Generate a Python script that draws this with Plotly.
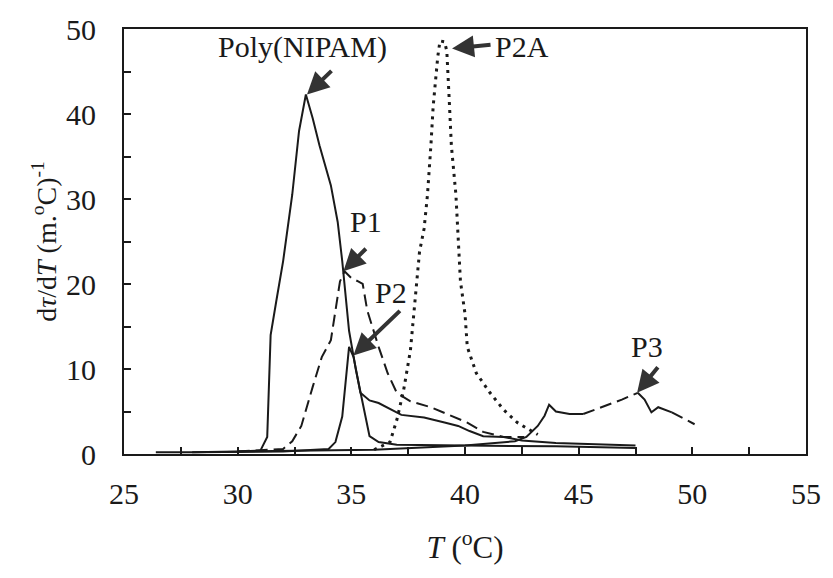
import plotly.graph_objects as go

# ---- data ----
poly_T = [26.4, 28.0, 30.0, 31.0, 31.3, 31.45, 31.7, 32.0, 32.4, 32.7, 33.0, 33.3, 33.6, 34.1, 34.4, 34.6, 34.9, 35.2, 35.5, 35.8, 36.2, 37.0, 40.0, 44.0, 47.5]
poly_y = [0.2, 0.2, 0.3, 0.4, 2.0, 14.0, 18.0, 22.7, 30.5, 38.0, 42.3, 39.5, 36.3, 31.6, 27.3, 22.7, 14.5, 9.9, 6.0, 2.1, 1.4, 1.1, 1.0, 0.9, 0.7]

p1_T = [30.0, 32.0, 32.4, 32.8, 33.3, 33.7, 34.1, 34.3, 34.5, 34.7, 35.0, 35.3, 35.5, 35.7, 36.2, 36.6, 37.0, 37.6, 38.5, 39.3, 40.1, 40.8, 41.7, 42.6]
p1_y = [0.3, 0.6, 1.5, 3.3, 7.9, 11.4, 13.4, 16.9, 20.3, 21.5, 20.7, 20.3, 20.0, 16.9, 12.6, 9.5, 7.2, 6.2, 5.5, 4.6, 3.7, 2.6, 2.0, 2.0]

p2_T = [28.0, 32.0, 34.0, 34.3, 34.6, 34.9, 35.1, 35.4, 35.8, 36.2, 37.2, 38.2, 39.1, 39.7, 40.2, 40.8, 41.7, 42.5, 44.0, 47.5]
p2_y = [0.2, 0.3, 0.6, 1.4, 4.4, 12.6, 11.4, 7.2, 6.3, 6.0, 4.6, 4.3, 3.7, 3.3, 2.7, 2.1, 2.0, 1.6, 1.3, 1.0]

p2a_T = [36.0, 36.7, 37.0, 37.3, 37.6, 37.8, 38.0, 38.2, 38.35, 38.5, 38.6, 38.8, 38.9, 39.1, 39.2, 39.3, 39.4, 39.6, 39.7, 39.8, 40.0, 40.1, 40.5, 41.1, 41.7, 42.3, 42.8, 43.2]
p2a_y = [0.5, 1.4, 4.0, 7.5, 12.2, 18.4, 23.8, 26.5, 30.5, 36.3, 40.9, 46.7, 48.6, 48.5, 47.4, 42.0, 36.3, 30.5, 25.0, 20.3, 16.5, 12.6, 9.5, 7.2, 5.2, 3.7, 2.9, 2.3]

p3_T = [30.0, 36.0, 40.0, 42.2, 42.7, 43.2, 43.5, 43.7, 44.0, 44.6, 45.2, 46.0, 46.9, 47.6, 47.9, 48.2, 48.5, 49.1, 49.5, 50.1]
p3_y = [0.3, 0.5, 1.0, 1.5, 2.0, 3.3, 4.5, 5.8, 5.0, 4.7, 4.7, 5.5, 6.4, 7.2, 6.4, 4.9, 5.5, 4.9, 4.3, 3.5]

labels = ["Poly(NIPAM)", "P1", "P2", "P2A", "P3"]
label_T = [32.83, 35.65, 36.74, 42.5, 48.0]
label_y = [47.9, 27.3, 19.0, 48.0, 12.6]
peak_T = [33.05, 34.65, 35.09, 39.43, 47.57]
peak_y = [42.3, 21.5, 11.6, 47.7, 7.2]
arrow_dx = [26, 24, 48, 40, 22]
arrow_dy = [-25, -24, -46, -4, -27]

x_ticks = [25, 30, 35, 40, 45, 50, 55]
y_ticks = [0, 10, 20, 30, 40, 50]

FONT = "Liberation Serif"
INK = "#1a1a1a"
fig = go.Figure()

fig.add_trace(go.Scatter(x=poly_T, y=poly_y, mode="lines",
                         line=dict(color=INK, width=2), name="Poly(NIPAM)"))
fig.add_trace(go.Scatter(x=p1_T, y=p1_y, mode="lines",
                         line=dict(color=INK, width=2, dash="12px,6px"), name="P1"))
fig.add_trace(go.Scatter(x=p2_T, y=p2_y, mode="lines",
                         line=dict(color=INK, width=2), name="P2"))
fig.add_trace(go.Scatter(x=p2a_T, y=p2a_y, mode="lines",
                         line=dict(color=INK, width=3, dash="3px,5px"), name="P2A"))
# P3: alternating solid / dashed stretches
segs = [(0, 11, "solid"), (10, 14, "12px,6px"), (13, 18, "solid"), (17, 20, "12px,6px")]
for a, b, d in segs:
    fig.add_trace(go.Scatter(x=p3_T[a:b], y=p3_y[a:b], mode="lines",
                             line=dict(color=INK, width=2, dash=d), name="P3"))

for i, lab in enumerate(labels):
    fig.add_annotation(x=label_T[i], y=label_y[i], text=lab, showarrow=False,
                       font=dict(family=FONT, size=30, color=INK))
    fig.add_annotation(x=peak_T[i], y=peak_y[i], text="", showarrow=True,
                       ax=arrow_dx[i], ay=arrow_dy[i], arrowhead=2, arrowsize=1.1,
                       arrowwidth=4, arrowcolor="#333")

axis_common = dict(showline=True, linecolor=INK, linewidth=2, mirror=True,
                   ticks="inside", ticklen=7, tickwidth=1.5, tickcolor=INK,
                   showgrid=False, zeroline=False,
                   tickfont=dict(family=FONT, size=30, color=INK))

fig.update_xaxes(range=[25, 55], tickvals=x_ticks,
                 minor=dict(dtick=2.5, ticks="inside", ticklen=7, tickcolor=INK),
                 ticklabelstandoff=12,
                 title=dict(text="<i>T</i> (<sup>o</sup>C)", standoff=27,
                            font=dict(family=FONT, size=31, color=INK)),
                 **axis_common)
fig.update_yaxes(range=[0, 50], tickvals=y_ticks,
                 minor=dict(dtick=5, ticks="inside", ticklen=7, tickcolor=INK),
                 ticklabelstandoff=20,
                 title=dict(text="d<i>τ</i>/d<i>T</i> (m.<sup>o</sup>C)<sup>-1</sup>", standoff=1,
                            font=dict(family=FONT, size=28, color=INK)),
                 **axis_common)

fig.update_layout(width=833, height=578, showlegend=False,
                  plot_bgcolor="white", paper_bgcolor="white",
                  margin=dict(l=124, r=22, t=23, b=124))

fig.write_html("out.html")
